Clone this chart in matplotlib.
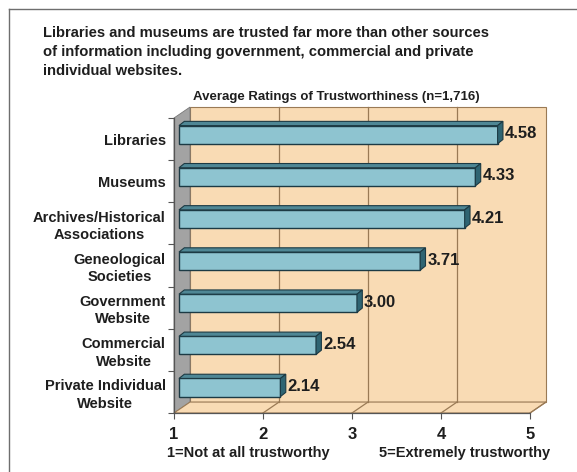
import matplotlib.pyplot as plt
from matplotlib.patches import Polygon

plt.rcParams["font.family"] = ["Liberation Sans", "DejaVu Sans"]
plt.rcParams["font.weight"] = "bold"

categories = [
    "Libraries",
    "Museums",
    "Archives/Historical\nAssociations",
    "Geneological\nSocieties",
    "Government\nWebsite",
    "Commercial\nWebsite",
    "Private Individual\nWebsite",
]
ratings = [4.58, 4.33, 4.21, 3.71, 3.00, 2.54, 2.14]
x_ticks = [1, 2, 3, 4, 5]

title = ("Libraries and museums are trusted far more than other sources\n"
         "of information including government, commercial and private\n"
         "individual websites.")
subtitle = "Average Ratings of Trustworthiness (n=1,716)"
low_note = "1=Not at all trustworthy"
high_note = "5=Extremely trustworthy"

TEXT = "#1e1e1e"
WALL = "#f9dbb4"
WALL_EDGE = "#9a7a55"
SIDE_WALL = "#a3a3a3"
BAR_FACE = "#8ec4d0"
BAR_TOP = "#4f8795"
BAR_SIDE = "#2f6472"
BAR_EDGE = "#1c3a44"

# depth of the back wall and of the bars, in data units
DX, DY = 0.18, 0.26
OX, OY = 0.056, 0.105
BDX, BDY = 0.06, 0.10
BAR_H = 0.43

fig = plt.figure(figsize=(5.77, 4.72), dpi=100)
ax = fig.add_axes([174 / 577, 59 / 472, 356 / 577, 295 / 472])
ax.set_xlim(1, 5)
ax.set_ylim(6.5, -0.5)
ax.set_facecolor("none")
for s in ["top", "right"]:
    ax.spines[s].set_visible(False)
for s in ["left", "bottom"]:
    ax.spines[s].set_color("#555555")
    ax.spines[s].set_linewidth(0.9)

y_top, y_bot = -0.5, 6.5

# back wall, left wall and floor
ax.add_patch(Polygon([(1 + DX, y_top - DY), (5 + DX, y_top - DY),
                      (5 + DX, y_bot - DY), (1 + DX, y_bot - DY)],
                     closed=True, fc=WALL, ec=WALL_EDGE, lw=0.8, clip_on=False, zorder=0))
ax.add_patch(Polygon([(1, y_bot), (1, y_top), (1 + DX, y_top - DY), (1 + DX, y_bot - DY)],
                     closed=True, fc=SIDE_WALL, ec="#777777", lw=0.6, clip_on=False, zorder=0))
ax.add_patch(Polygon([(1, y_bot), (5, y_bot), (5 + DX, y_bot - DY), (1 + DX, y_bot - DY)],
                     closed=True, fc=WALL, ec=WALL_EDGE, lw=0.8, clip_on=False, zorder=0))
for x in x_ticks[1:-1]:
    ax.plot([x + DX, x + DX], [y_top - DY, y_bot - DY], color=WALL_EDGE, lw=0.9,
            clip_on=False, zorder=0.5)
for x in x_ticks[1:]:
    ax.plot([x, x + DX], [y_bot, y_bot - DY], color=WALL_EDGE, lw=0.9,
            clip_on=False, zorder=0.5)

ypos = list(range(len(categories)))

# front faces of the bars
ax.barh([y - OY for y in ypos], [v - 1 for v in ratings], left=1 + OX, height=BAR_H,
        color=BAR_FACE, edgecolor=BAR_EDGE, linewidth=1.0, zorder=3)

for y, v in zip(ypos, ratings):
    top = y - OY - BAR_H / 2
    bot = y - OY + BAR_H / 2
    x0, x1 = 1 + OX, v + OX
    ax.add_patch(Polygon([(x0, top), (x1, top), (x1 + BDX, top - BDY), (x0 + BDX, top - BDY)],
                         closed=True, fc=BAR_TOP, ec=BAR_EDGE, lw=0.8, zorder=3))
    ax.add_patch(Polygon([(x1, top), (x1, bot), (x1 + BDX, bot - BDY), (x1 + BDX, top - BDY)],
                         closed=True, fc=BAR_SIDE, ec=BAR_EDGE, lw=0.8, zorder=3))
    ax.text(x1 + BDX + 0.02, y - OY - 0.02, f"{v:.2f}", ha="left", va="center",
            fontsize=12, color=TEXT, zorder=4)

ax.set_xticks(x_ticks)
ax.set_xticklabels([str(t) for t in x_ticks], fontsize=12, color=TEXT)
ax.set_yticks([y + 0.5 for y in [-1] + ypos])
ax.set_yticklabels([])
ax.set_yticks(ypos, minor=True)
ax.set_yticklabels(categories, minor=True, fontsize=10.5, color=TEXT,
                   multialignment="center", linespacing=1.3)
ax.tick_params(axis="y", which="minor", length=0, pad=6)
ax.tick_params(axis="y", which="major", length=4, color="#555555")
ax.tick_params(axis="x", length=4, color="#555555", pad=6)

fig.text(43 / 577, 1 - 26 / 472, title, ha="left", va="top", fontsize=10.6,
         color=TEXT, linespacing=1.45)
fig.text(480 / 577, 1 - 97 / 472, subtitle, ha="right", va="center", fontsize=9.5,
         color=TEXT)
fig.text(167 / 577, 1 - 453 / 472, low_note, ha="left", va="center", fontsize=10.5,
         color=TEXT)
fig.text(550 / 577, 1 - 453 / 472, high_note, ha="right", va="center", fontsize=10.5,
         color=TEXT)

# outer frame
fig.add_artist(plt.Line2D([9 / 577, 9 / 577], [0, 1 - 9 / 472], color="#6e6e6e", lw=1.0))
fig.add_artist(plt.Line2D([9 / 577, 1], [1 - 9 / 472, 1 - 9 / 472], color="#6e6e6e", lw=1.0))

fig.savefig("out.png", dpi=100)
